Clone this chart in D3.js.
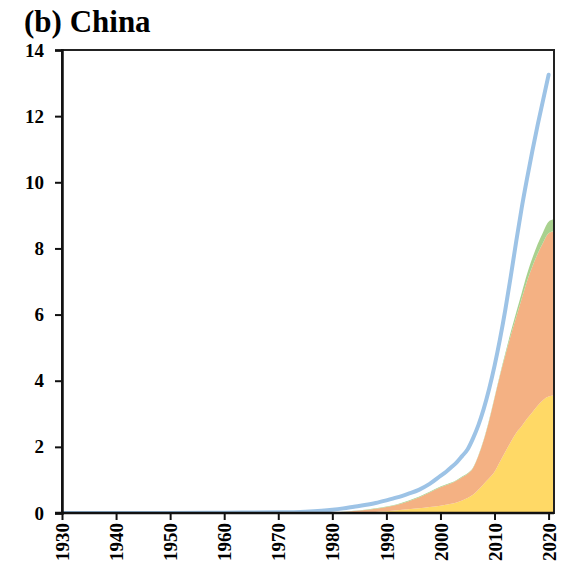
<!DOCTYPE html>
<html><head><meta charset="utf-8">
<script src="https://cdn.jsdelivr.net/npm/d3@7"></script>
<style>body{margin:0;background:#fff}svg{display:block}</style>
</head><body>
<svg id="c" width="563" height="567"></svg>
<script>
const years = [1930,1950,1960,1970,1975,1978,1980,1982,1984,1986,1988,1990,1992,1994,1996,1998,
  2000,2001,2002,2003,2004,2005,2006,2007,2008,2009,2010,2011,2012,2013,2014,2015,2016,2017,2018,2019,2020,2021];
const totalLine = [0,0,0.01,0.02,0.04,0.07,0.10,0.14,0.19,0.24,0.30,0.38,0.47,0.58,0.70,0.88,
  1.12,1.24,1.38,1.53,1.72,1.92,2.25,2.65,3.15,3.75,4.45,5.25,6.15,7.15,8.2,9.2,10.1,10.95,11.75,12.5,13.25,null];
const yellowSeries = [0,0,0,0,0,0,0,0.005,0.01,0.02,0.03,0.05,0.08,0.11,0.14,0.18,
  0.22,0.25,0.28,0.32,0.38,0.45,0.55,0.70,0.88,1.05,1.25,1.55,1.85,2.15,2.42,2.62,2.85,3.05,3.25,3.42,3.52,3.55];
const orangeSeries = [0,0,0,0,0,0,0.01,0.025,0.05,0.07,0.10,0.13,0.17,0.24,0.33,0.44,
  0.56,0.59,0.62,0.66,0.70,0.73,0.80,1.02,1.32,1.74,2.22,2.60,2.92,3.22,3.50,3.84,4.15,4.40,4.60,4.76,4.94,4.97];
const greenSeries = [0,0,0,0,0,0,0.005,0.01,0.01,0.01,0.015,0.015,0.015,0.02,0.02,0.02,
  0.02,0.02,0.02,0.02,0.02,0.02,0.02,0.02,0.02,0.03,0.03,0.04,0.07,0.10,0.14,0.18,0.22,0.26,0.29,0.32,0.35,0.36];
const yTicks = [0,2,4,6,8,10,12,14];
const xTicks = [1930,1940,1950,1960,1970,1980,1990,2000,2010,2020];
const title = "(b) China";

const svg = d3.select("#c");
const L = 62, R = 554, T = 50, B = 513;
const x = d3.scaleLinear().domain([1930, 2021]).range([L, R]);
const y = d3.scaleLinear().domain([0, 14]).range([B, T]);

const rows = years.map((yr, i) => ({year: yr, yellow: yellowSeries[i], orange: orangeSeries[i], green: greenSeries[i], total: totalLine[i]}));
const stack = d3.stack().keys(["yellow","orange","green"]);
const layers = stack(rows);
const colors = {yellow:"#FFD966", orange:"#F4B183", green:"#A9D18E"};

svg.append("defs").append("clipPath").attr("id","clip")
  .append("rect").attr("x",L).attr("y",T).attr("width",R-L).attr("height",B-T);

const g = svg.append("g").attr("clip-path","url(#clip)");
const area = d3.area().x(d => x(d.data.year)).y0(d => y(d[0])).y1(d => y(d[1])).curve(d3.curveMonotoneX);
g.selectAll("path.a").data(layers).join("path")
  .attr("fill", d => colors[d.key]).attr("d", area);

const line = d3.line().defined(d => d.total !== null).x(d => x(d.year)).y(d => y(d.total)).curve(d3.curveMonotoneX);
g.append("path").datum(rows).attr("fill","none").attr("stroke","#9DC3E6")
  .attr("stroke-width",4).attr("stroke-linecap","round").attr("d", line);

// frame
svg.append("rect").attr("x",L).attr("y",T).attr("width",R-L).attr("height",B-T)
  .attr("fill","none").attr("stroke","#222").attr("stroke-width",2);

const font = "'Liberation Serif','Times New Roman',serif";
const yAxis = svg.append("g").attr("transform",`translate(${L},0)`)
  .call(d3.axisLeft(y).tickValues(yTicks).tickSize(7).tickPadding(11).tickFormat(d3.format("d")));
yAxis.select(".domain").attr("stroke","#111").attr("stroke-width",2.5);
yAxis.selectAll(".tick line").attr("stroke","#111").attr("stroke-width",2);
yAxis.selectAll(".tick text").attr("font-family",font).attr("font-weight","bold").attr("font-size",19).attr("fill","#000");

const xAxis = svg.append("g").attr("transform",`translate(0,${B})`)
  .call(d3.axisBottom(x).tickValues(xTicks).tickSize(7).tickFormat(d3.format("d")));
xAxis.select(".domain").remove();
svg.append("line").attr("x1",L-7).attr("x2",R).attr("y1",B).attr("y2",B).attr("stroke","#111").attr("stroke-width",2.5);
xAxis.selectAll(".tick line").attr("stroke","#111").attr("stroke-width",2);
xAxis.selectAll(".tick text").attr("font-family",font).attr("font-weight","bold").attr("font-size",19).attr("fill","#000")
  .attr("transform","rotate(-90)").attr("text-anchor","end").attr("dy","0.35em").attr("y",0).attr("x",-10);

svg.append("text").attr("x",24).attr("y",32).attr("font-family",font).attr("font-weight","bold")
  .attr("font-size",31).text(title);
</script>
</body></html>
